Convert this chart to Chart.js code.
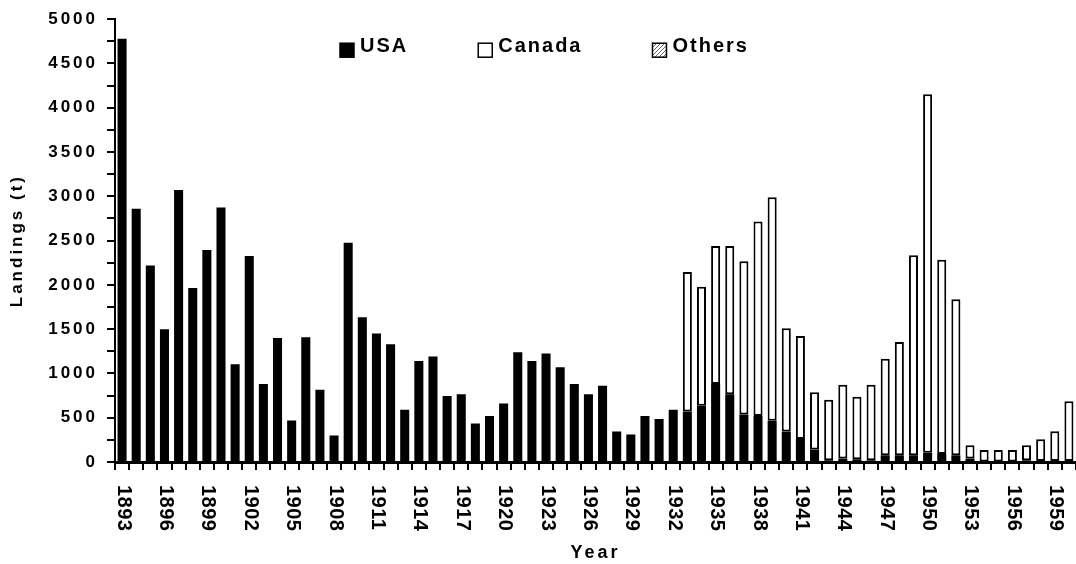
<!DOCTYPE html>
<html lang="en">
<head>
<meta charset="UTF-8">
<title>Landings by year</title>
<script src="https://cdn.jsdelivr.net/npm/chart.js@4"></script>
<style>
    * { margin: 0; padding: 0; box-sizing: border-box; }
    body { background: #fff; }
    canvas { display: block; }
</style>
</head>
<body>
<canvas id="landingsChart" width="1076" height="564"></canvas>
<script>
    // Categories: one bar per year
    const years = [
        '1893','1894','1895','1896','1897','1898','1899','1900','1901','1902',
        '1903','1904','1905','1906','1907','1908','1909','1910','1911','1912',
        '1913','1914','1915','1916','1917','1918','1919','1920','1921','1922',
        '1923','1924','1925','1926','1927','1928','1929','1930','1931','1932',
        '1933','1934','1935','1936','1937','1938','1939','1940','1941','1942',
        '1943','1944','1945','1946','1947','1948','1949','1950','1951','1952',
        '1953','1954','1955','1956','1957','1958','1959','1960'
    ];

    // Landings (t)
    const usa = [
        4780, 2860, 2220, 1500, 3070, 1965, 2395, 2875, 1105, 2325,
         880, 1400,  470, 1410,  815,  300, 2475, 1635, 1450, 1330,
         590, 1140, 1190,  745,  765,  435,  520,  660, 1240, 1140,
        1225, 1070,  880,  765,  860,  345,  310,  520,  485,  590,
         570,  635,  880,  765,  535,  520,  465,  345,  260,  140,
          20,   40,   30,   20,   75,   75,   75,  105,   90,   75,
          40,    5,    5,    5,   20,   10,   10,   10
    ];
    const canada = [
           0,    0,    0,    0,    0,    0,    0,    0,    0,    0,
           0,    0,    0,    0,    0,    0,    0,    0,    0,    0,
           0,    0,    0,    0,    0,    0,    0,    0,    0,    0,
           0,    0,    0,    0,    0,    0,    0,    0,    0,    0,
        1576, 1345, 1560, 1675, 1732, 2195, 2525, 1165, 1163,  647,
         684,  833,  708,  853, 1092, 1280, 2259, 4048, 2195, 1762,
         148,  131,  131,  131,  168,  246,  336,  675
    ];
    const others = [
        0, 0, 0, 0, 0, 0, 0, 0, 0, 0,
        0, 0, 0, 0, 0, 0, 0, 0, 0, 0,
        0, 0, 0, 0, 0, 0, 0, 0, 0, 0,
        0, 0, 0, 0, 0, 0, 0, 0, 0, 0,
        0, 0, 0, 0, 0, 0, 0, 0, 0, 0,
        0, 0, 0, 0, 0, 0, 0, 0, 0, 0,
        0, 0, 0, 0, 0, 0, 0, 0
    ];

    // Tick labels
    const xTickYears = ['1893','1896','1899','1902','1905','1908','1911','1914','1917','1920','1923',
                        '1926','1929','1932','1935','1938','1941','1944','1947','1950','1953','1956','1959'];
    const yLabelStep = 500;

    const FONT = '"Liberation Sans", Arial, Helvetica, sans-serif';
    Chart.defaults.font.family = FONT;
    Chart.defaults.font.weight = 'bold';
    Chart.defaults.color = '#000';

    // Grey hatch for "Others"
    function makeHatch() {
        const p = document.createElement('canvas');
        p.width = 4;
        p.height = 4;
        const c = p.getContext('2d');
        c.fillStyle = '#fff';
        c.fillRect(0, 0, 4, 4);
        c.strokeStyle = '#666';
        c.lineWidth = 1;
        c.beginPath();
        c.moveTo(0, 4);
        c.lineTo(4, 0);
        c.stroke();
        return c.createPattern(p, 'repeat');
    }

    // Spaced-out lettering like the original
    const letterSpacing = {
        id: 'letterSpacing',
        beforeLayout(chart) { chart.ctx.letterSpacing = '3px'; },
        beforeDraw(chart) { chart.ctx.letterSpacing = '3px'; }
    };

    // Year labels rotated clockwise (read top to bottom)
    const yearLabels = {
        id: 'yearLabels',
        afterDraw(chart) {
            const ctx = chart.ctx;
            const x = chart.scales.x;
            ctx.save();
            ctx.letterSpacing = '0.5px';
            ctx.font = 'bold 20px ' + FONT;
            ctx.fillStyle = '#000';
            ctx.textAlign = 'left';
            ctx.textBaseline = 'middle';
            xTickYears.forEach(label => {
                const px = x.getPixelForValue(years.indexOf(label));
                ctx.save();
                ctx.translate(px + 1, x.top + 23);
                ctx.rotate(Math.PI / 2);
                ctx.fillText(label, 0, 0);
                ctx.restore();
            });
            ctx.restore();
        }
    };

    // Legend drawn inside the plot, near the top
    const insideLegend = {
        id: 'insideLegend',
        afterDraw(chart) {
            const ctx = chart.ctx;
            const area = chart.chartArea;
            const box = 14;
            let lx = area.left + 225;
            const by = area.top + 24;
            ctx.save();
            ctx.font = 'bold 20px ' + FONT;
            ctx.letterSpacing = '2px';
            ctx.textAlign = 'left';
            ctx.textBaseline = 'alphabetic';
            chart.data.datasets.forEach(ds => {
                ctx.fillStyle = ds.backgroundColor;
                ctx.fillRect(lx, by, box, box);
                ctx.strokeStyle = '#000';
                ctx.lineWidth = 1.5;
                ctx.strokeRect(lx, by, box, box);
                ctx.fillStyle = '#000';
                ctx.fillText(ds.label, lx + box + 6, by + 9);
                lx += box + 6 + ctx.measureText(ds.label).width + 70;
            });
            ctx.restore();
        }
    };

    const ctx = document.getElementById('landingsChart').getContext('2d');

    new Chart(ctx, {
        type: 'bar',
        data: {
            labels: years,
            datasets: [
                {
                    label: 'USA',
                    data: usa,
                    backgroundColor: '#000',
                    borderWidth: 0,
                    barPercentage: 0.64,
                    categoryPercentage: 1
                },
                {
                    label: 'Canada',
                    data: canada,
                    backgroundColor: '#fff',
                    borderColor: '#000',
                    borderWidth: 2,
                    borderSkipped: false,
                    barPercentage: 0.64,
                    categoryPercentage: 1
                },
                {
                    label: 'Others',
                    data: others,
                    backgroundColor: makeHatch(),
                    borderColor: '#000',
                    borderWidth: 1,
                    borderSkipped: false,
                    barPercentage: 0.64,
                    categoryPercentage: 1
                }
            ]
        },
        options: {
            responsive: false,
            animation: false,
            layout: { padding: { top: 19, right: 0, bottom: 0, left: 0 } },
            plugins: {
                legend: { display: false },
                tooltip: { enabled: false }
            },
            scales: {
                x: {
                    stacked: true,
                    ticks: { display: false },
                    grid: {
                        offset: true,
                        drawOnChartArea: false,
                        drawTicks: true,
                        tickLength: 8,
                        color: '#000',
                        lineWidth: 2
                    },
                    border: { display: true, color: '#000', width: 3 },
                    title: {
                        display: true,
                        text: 'Year',
                        font: { size: 18, weight: 'bold' },
                        padding: { top: 0, bottom: 0 }
                    },
                    afterFit(scale) { scale.height = 102; }
                },
                y: {
                    stacked: true,
                    min: 0,
                    max: 5000,
                    ticks: {
                        stepSize: 250,
                        autoSkip: false,
                        padding: 9,
                        font: { size: 17, weight: 'bold' },
                        callback: v => (v % yLabelStep === 0 ? v : '')
                    },
                    grid: {
                        drawOnChartArea: false,
                        drawTicks: true,
                        tickLength: 8,
                        color: '#000',
                        lineWidth: 2
                    },
                    border: { display: true, color: '#000', width: 2 },
                    title: {
                        display: true,
                        text: 'Landings (t)',
                        font: { size: 17, weight: 'bold' },
                        padding: { top: 7, bottom: 0 }
                    },
                    afterFit(scale) { scale.width = 115; }
                }
            }
        },
        plugins: [letterSpacing, yearLabels, insideLegend]
    });
</script>
</body>
</html>
